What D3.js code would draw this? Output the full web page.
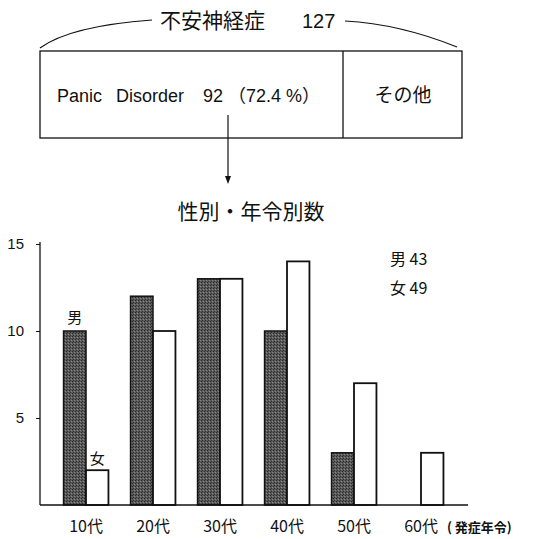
<!DOCTYPE html>
<html><head><meta charset="utf-8">
<script src="https://cdn.jsdelivr.net/npm/d3@7"></script>
<style>
body{margin:0;background:#fff;}
text{font-family:"Liberation Sans","Noto Sans CJK JP",sans-serif;fill:#111;}
.jp{font-family:"Noto Sans CJK JP","Liberation Sans",sans-serif;}
</style></head>
<body>
<svg id="chart" width="534" height="539"></svg>
<script>
const categories = ["10代","20代","30代","40代","50代","60代"];
const male = [10,12,13,10,3,0];
const female = [2,10,13,14,7,3];
const yTicks = [5,10,15];
const totalName = "不安神経症";
const totalCount = "127";
const panicWords = ["Panic","Disorder","92","（72.4 %）"];
const otherLabel = "その他";
const subTitle = "性別・年令別数";
const legendItems = ["男 43","女 49"];

const svg = d3.select("#chart");
const ink = "#111";

// pattern for male bars
const defs = svg.append("defs");
const pat = defs.append("pattern").attr("id","stip").attr("width",3).attr("height",3).attr("patternUnits","userSpaceOnUse");
pat.append("rect").attr("width",3).attr("height",3).attr("fill","#5a5a5a");
pat.append("rect").attr("x",0).attr("y",0).attr("width",1).attr("height",1).attr("fill","#2a2a2a");
pat.append("rect").attr("x",2).attr("y",1).attr("width",1).attr("height",1).attr("fill","#888");
pat.append("rect").attr("x",1).attr("y",2).attr("width",1).attr("height",1).attr("fill","#333");

// top header
svg.append("text").attr("class","jp").attr("x",160).attr("y",28).attr("font-size",21).text(totalName);
svg.append("text").attr("x",302).attr("y",28).attr("font-size",20).text(totalCount);
svg.append("path").attr("d","M40,48 Q70,26 152,20").attr("fill","none").attr("stroke",ink).attr("stroke-width",1.2);
svg.append("path").attr("d","M345,21 Q400,24 457,47").attr("fill","none").attr("stroke",ink).attr("stroke-width",1.2);

// box
svg.append("rect").attr("x",40).attr("y",51).attr("width",422).attr("height",87)
  .attr("fill","none").attr("stroke",ink).attr("stroke-width",1.3);
svg.append("line").attr("x1",343).attr("x2",343).attr("y1",51).attr("y2",138).attr("stroke",ink).attr("stroke-width",1.3);
const wordX = [57,116,203,228];
const pt = svg.append("text").attr("y",102).attr("font-size",18);
pt.selectAll("tspan").data(panicWords).enter().append("tspan")
  .attr("x",(d,i)=>wordX[i]).text(d=>d);
svg.append("text").attr("class","jp").attr("x",403).attr("y",102).attr("text-anchor","middle").attr("font-size",19).text(otherLabel);

// arrow
svg.append("line").attr("x1",228).attr("x2",228).attr("y1",115).attr("y2",177).attr("stroke",ink).attr("stroke-width",1.2);
svg.append("path").attr("d","M225,176 L231,176 L228,184 Z").attr("fill",ink);

svg.append("text").attr("class","jp").attr("x",251).attr("y",219).attr("text-anchor","middle").attr("font-size",21).text(subTitle);

// chart
const x0 = 40, x1 = 468, yBase = 505;
const x = d3.scaleBand().domain(categories).range([52.5, 454.5]).paddingInner(0.33).paddingOuter(0.165);
const y = d3.scaleLinear().domain([0,15]).range([yBase, 244]);

const g = svg.append("g");
g.selectAll(".m").data(categories.map((c,i)=>({c,v:male[i]})).filter(d=>d.v>0)).enter().append("rect")
  .attr("x",d=>x(d.c)).attr("y",d=>y(d.v)).attr("width",x.bandwidth()/2).attr("height",d=>yBase-y(d.v))
  .attr("fill","url(#stip)").attr("stroke",ink).attr("stroke-width",1.5);
g.selectAll(".f").data(categories.map((c,i)=>({c,v:female[i]})).filter(d=>d.v>0)).enter().append("rect")
  .attr("x",d=>x(d.c)+x.bandwidth()/2).attr("y",d=>y(d.v)).attr("width",x.bandwidth()/2).attr("height",d=>yBase-y(d.v))
  .attr("fill","#fff").attr("stroke",ink).attr("stroke-width",1.8);

// y axis
const yAxis = d3.axisLeft(y).tickValues(yTicks).tickSize(4).tickPadding(12);
const ya = svg.append("g").attr("transform",`translate(${x0},0)`).call(yAxis);
ya.select(".domain").remove();
ya.selectAll("text").attr("font-size",15).style("font-family","Liberation Sans").attr("fill",ink);
ya.selectAll("line").attr("stroke",ink);
svg.append("line").attr("x1",x0).attr("x2",x0).attr("y1",242).attr("y2",yBase).attr("stroke",ink).attr("stroke-width",1.3);

// x axis
const xAxis = d3.axisBottom(x).tickSize(0).tickPadding(16);
const xa = svg.append("g").attr("transform",`translate(0,${yBase})`).call(xAxis);
xa.select(".domain").remove();
xa.selectAll("text").attr("font-size",16).attr("class","jp").attr("fill",ink);
svg.append("line").attr("x1",x0).attr("x2",x1).attr("y1",yBase).attr("y2",yBase).attr("stroke",ink).attr("stroke-width",1.3);
svg.append("text").attr("class","jp").attr("x",447).attr("y",532).attr("font-size",13).attr("font-weight","bold").text("( 発症年令)");

// bar labels
svg.append("text").attr("class","jp").attr("x",x(categories[0])+x.bandwidth()/4).attr("y",y(male[0])-8)
  .attr("text-anchor","middle").attr("font-size",15).text("男");
svg.append("text").attr("class","jp").attr("x",x(categories[0])+x.bandwidth()*3/4).attr("y",y(female[0])-6)
  .attr("text-anchor","middle").attr("font-size",15).text("女");

// legend
svg.selectAll(".lg").data(legendItems).enter().append("text").attr("class","jp")
  .attr("x",390).attr("y",(d,i)=>265+i*29).attr("font-size",16).text(d=>d);
</script>
</body></html>
